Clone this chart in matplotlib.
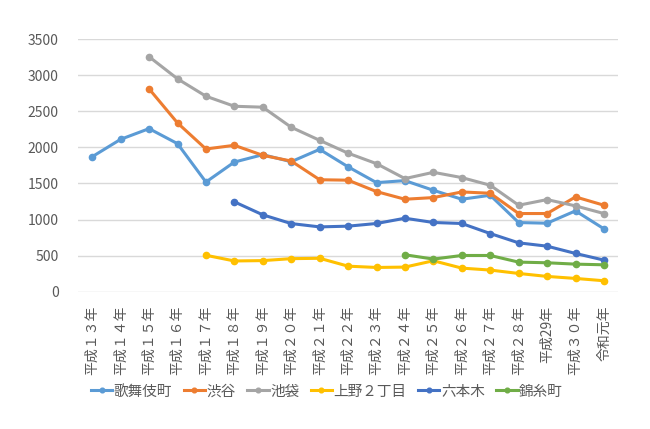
import matplotlib
matplotlib.use('Agg')
import matplotlib.pyplot as plt

plt.rcParams['font.family'] = ['Noto Sans CJK JP', 'DejaVu Sans']

years = ['平成１３年', '平成１４年', '平成１５年', '平成１６年', '平成１７年',
         '平成１８年', '平成１９年', '平成２０年', '平成２１年', '平成２２年',
         '平成２３年', '平成２４年', '平成２５年', '平成２６年', '平成２７年',
         '平成２８年', '平成29年', '平成３０年', '令和元年']

kabukicho = [1870, 2111, 2259, 2051, 1519, 1796, 1898, 1801, 1972, 1730,
             1511, 1539, 1405, 1281, 1336, 958, 949, 1120, 871]
shibuya = [None, None, 2810, 2338, 1977, 2028, 1889, 1810, 1551, 1545,
           1387, 1281, 1304, 1382, 1364, 1083, 1083, 1313, 1198]
ikebukuro = [None, None, 3255, 2949, 2708, 2569, 2556, 2278, 2097, 1919,
             1774, 1567, 1654, 1581, 1475, 1198, 1276, 1189, 1083]
ueno = [None, None, None, None, 505, 426, 431, 458, 463, 354,
        336, 341, 429, 327, 300, 253, 212, 184, 152]
roppongi = [None, None, None, None, None, 1245, 1065, 944, 898, 908,
            945, 1018, 959, 945, 806, 677, 631, 530, 438]
kinshicho = [None] * 11 + [512, 452, 502, 502, 410, 401, 382, 373]

series = [
    ('歌舞伎町', kabukicho, '#5B9BD5'),
    ('渋谷', shibuya, '#ED7D31'),
    ('池袋', ikebukuro, '#A5A5A5'),
    ('上野２丁目', ueno, '#FFC000'),
    ('六本木', roppongi, '#4472C4'),
    ('錦糸町', kinshicho, '#70AD47'),
]

fig = plt.figure(figsize=(6.5, 4.29), dpi=100)
ax = fig.add_axes([0.12, 0.32, 0.831, 0.589])

x = list(range(len(years)))
for name, vals, color in series:
    xs = [i for i, v in zip(x, vals) if v is not None]
    ys = [v for v in vals if v is not None]
    ax.plot(xs, ys, color=color, linewidth=2.2, marker='o', markersize=4.5,
            label=name)

ax.set_xlim(-0.5, len(years) - 0.5)
ax.set_ylim(0, 3500)
ax.set_yticks(range(0, 3501, 500))
ax.set_xticks(x)
ax.set_xticklabels(years, rotation=90, va='top', ha='center')
ax.grid(axis='y', color='#D9D9D9', linewidth=1)
ax.set_axisbelow(True)
for s in ax.spines.values():
    s.set_visible(False)
ax.tick_params(length=0, colors='#595959', labelsize=10)
ax.tick_params(axis='y', pad=14)
ax.tick_params(axis='x', pad=10)

leg = ax.legend(loc='center', bbox_to_anchor=(0.461, -0.395), ncol=6,
                frameon=False, fontsize=10.5, labelcolor='#595959',
                handlelength=1.45, handletextpad=0.1, columnspacing=0.8,
                markerscale=0.75, borderpad=0)

fig.savefig('out.png', dpi=100)
